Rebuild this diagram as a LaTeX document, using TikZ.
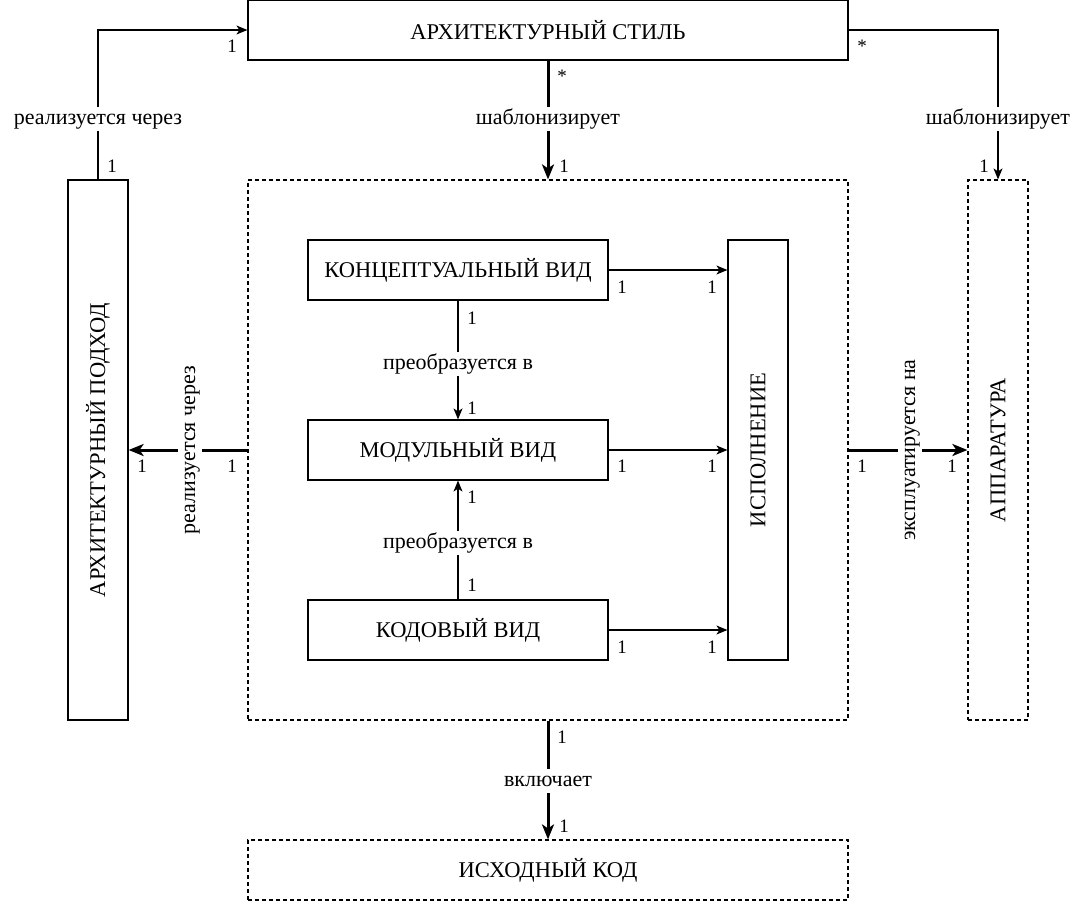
\documentclass[tikz,border=0pt]{standalone}
\usepackage{fontspec}
\setmainfont{Liberation Serif}
\usetikzlibrary{arrows.meta}
\begin{document}
\begin{tikzpicture}[x=1pt,y=-1pt,
 box/.style={draw, line width=1.2pt, inner sep=0pt, font=\fontsize{22.5}{26}\selectfont},
 dbox/.style={box, dash pattern=on 4pt off 3pt},
 vtext/.style={rotate=90, font=\fontsize{22.5}{26}\selectfont},
 thinarr/.style={line width=1.2pt, -{Stealth[length=11pt,width=9pt,inset=3pt]}},
 thickarr/.style={line width=3pt, -{Stealth[length=15pt,width=12pt,inset=4pt]}},
 lab/.style={fill=white, inner sep=2pt, text height=15pt, text depth=5pt, font=\fontsize{22}{24}\selectfont},
 hlab/.style={lab, anchor=base},
 mult/.style={font=\fontsize{19}{21}\selectfont, inner sep=1pt}
]
\useasboundingbox (0,0) rectangle (1073,903);

% nodes
\node[box, minimum width=600pt, minimum height=60pt] (st) at (548,30) {АРХИТЕКТУРНЫЙ СТИЛЬ};
\node[box, minimum width=60pt, minimum height=540pt] (ap) at (98,450) {};
\node[vtext] at (ap.center) {АРХИТЕКТУРНЫЙ ПОДХОД};
\node[dbox, minimum width=600pt, minimum height=540pt] (big) at (548,450) {};
\node[dbox, minimum width=60pt, minimum height=540pt] (hw) at (998,450) {};
\node[vtext] at (hw.center) {АППАРАТУРА};
\node[dbox, minimum width=600pt, minimum height=60pt] (src) at (548,870) {ИСХОДНЫЙ КОД};

\node[box, minimum width=300pt, minimum height=60pt] (kv) at (458,270) {КОНЦЕПТУАЛЬНЫЙ ВИД};
\node[box, minimum width=300pt, minimum height=60pt] (mv) at (458,450) {МОДУЛЬНЫЙ ВИД};
\node[box, minimum width=300pt, minimum height=60pt] (cv) at (458,630) {КОДОВЫЙ ВИД};
\node[box, minimum width=60pt, minimum height=420pt] (ex) at (758,450) {};
\node[vtext] at (ex.center) {ИСПОЛНЕНИЕ};

% connectors
\draw[thinarr] (ap.north) -- (ap.north |- st.west) -- (st.west);
\node[hlab] at (98,124) {реализуется через};
\node[mult] at (112,166) {1};
\node[mult] at (232,46) {1};

\draw[thickarr] (st.south) -- (big.north);
\node[hlab] at (548,124) {шаблонизирует};
\node[mult] at (562,76) {*};
\node[mult] at (564,166) {1};

\draw[thinarr] (st.east) -| (hw.north);
\node[hlab] at (998,124) {шаблонизирует};
\node[mult] at (862,46) {*};
\node[mult] at (984,166) {1};

\draw[thickarr] (big.west) -- (ap.east);
\node[lab, rotate=90] at (190,450) {реализуется через};
\node[mult] at (232,466) {1};
\node[mult] at (142,466) {1};

\draw[thickarr] (big.east) -- (hw.west);
\node[lab, rotate=90] at (910,450) {эксплуатируется на};
\node[mult] at (862,466) {1};
\node[mult] at (952,466) {1};

\draw[thickarr] (big.south) -- (src.north);
\node[hlab] at (548,786) {включает};
\node[mult] at (562,737) {1};
\node[mult] at (564,826) {1};

\draw[thinarr] (kv.south) -- (mv.north);
\node[hlab] at (458,369) {преобразуется в};
\node[mult] at (472,318) {1};
\node[mult] at (472,408) {1};

\draw[thinarr] (cv.north) -- (mv.south);
\node[hlab] at (458,548) {преобразуется в};
\node[mult] at (472,585) {1};
\node[mult] at (472,497) {1};

\draw[thinarr] (kv.east) -- (kv.east -| ex.west);
\node[mult] at (622,287) {1};
\node[mult] at (712,287) {1};
\draw[thinarr] (mv.east) -- (ex.west |- mv.east);
\node[mult] at (622,466) {1};
\node[mult] at (712,466) {1};
\draw[thinarr] (cv.east) -- (cv.east -| ex.west);
\node[mult] at (622,647) {1};
\node[mult] at (712,647) {1};
\end{tikzpicture}
\end{document}
